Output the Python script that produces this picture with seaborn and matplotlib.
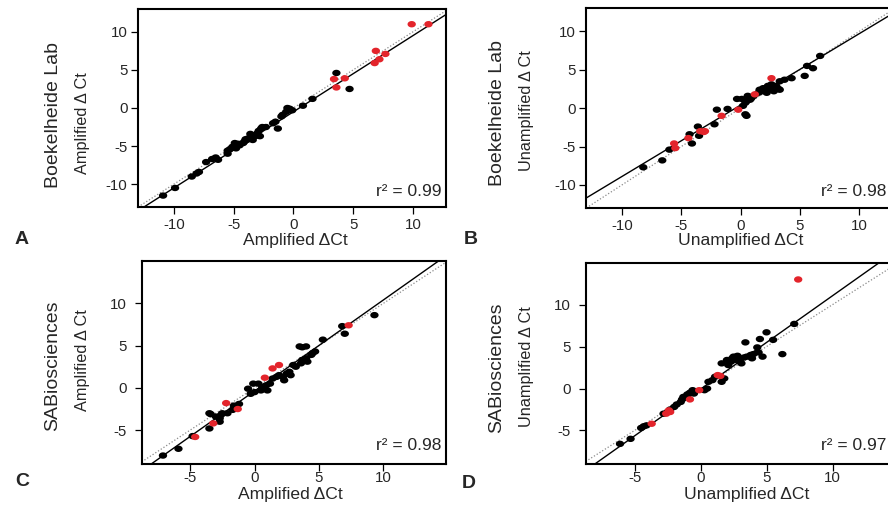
import numpy as np
import pandas as pd
import matplotlib
matplotlib.use("Agg")
import matplotlib.pyplot as plt
from matplotlib.path import Path
import seaborn as sns

# ---------------- data ----------------
# Panel A: Boekelheide Lab, amplified vs amplified
a_black_x = [-10.9, -9.9, -8.5, -8.1, -7.9, -7.3, -6.5, -6.3, -5.5, -5.5, -5.1, -4.9, -4.8,
             -4.5, -4.2, -4.1, -3.9, -3.8, -3.5, -3.4, -3.2, -3.1, -3.0, -2.8, -2.7, -2.6,
             -2.3, -1.7, -1.5, -1.3, -1.0, -0.9, -0.6, -0.5, -0.3, -0.1, 0.8, 1.6, 3.6, 4.7,
             -4.6, -4.0, -3.6, -2.9, -5.3, -6.8]
a_black_y = [-11.5, -10.5, -9.0, -8.6, -8.4, -7.1, -6.5, -6.8, -5.6, -6.0, -5.1, -4.6, -5.3,
             -4.9, -4.6, -4.4, -4.2, -4.0, -3.8, -4.2, -3.7, -3.5, -3.3, -3.7, -2.7, -2.5,
             -2.5, -2.0, -1.8, -2.7, -1.1, -0.9, -0.5, 0.0, -0.1, -0.3, 0.3, 1.2, 4.6, 2.5,
             -4.7, -4.1, -3.4, -3.0, -5.4, -6.7]
a_red_x = [3.4, 3.6, 4.3, 6.8, 6.9, 7.2, 7.7, 9.9, 11.3]
a_red_y = [3.8, 2.7, 3.9, 5.9, 7.5, 6.4, 7.1, 11.0, 11.0]

# Panel B: Boekelheide Lab, unamplified vs unamplified
b_black_x = [-8.2, -6.6, -6.0, -4.3, -4.1, -3.6, -3.5, -2.2, -2.0, -1.1, -0.3, 0.1, 0.2, 0.4,
             0.5, 0.4, 0.5, 0.6, 0.8, 0.9, 1.1, 1.5, 1.6, 1.8, 1.9, 2.0, 2.2, 2.3, 2.5, 2.6,
             2.8, 3.0, 3.2, 3.3, 3.3, 3.7, 4.3, 5.4, 5.6, 6.1, 6.7]
b_black_y = [-7.7, -6.8, -5.4, -3.4, -4.6, -2.4, -3.6, -2.1, -0.2, -0.1, 1.2, 1.2, 0.3, 0.7,
             0.9, -0.8, -1.0, 1.6, 1.1, 1.3, 1.6, 2.0, 2.4, 2.2, 2.6, 2.4, 2.0, 2.9, 2.6, 3.1,
             2.2, 2.9, 2.5, 2.4, 3.5, 3.7, 3.9, 4.2, 5.5, 5.2, 6.8]
b_red_x = [-5.6, -5.5, -4.4, -3.4, -3.1, -3.0, -1.6, -0.2, 1.2, 2.6]
b_red_y = [-4.6, -5.2, -3.9, -3.0, -3.1, -3.0, -1.0, -0.2, 1.8, 3.9]

# Panel C: SABiosciences, amplified vs amplified
c_black_x = [-7.1, -5.9, -4.8, -3.5, -3.5, -3.4, -3.0, -2.7, -2.6, -2.5, -2.7, -2.1, -1.7,
             -1.6, -1.2, -0.5, -0.3, 0.0, 0.3, 0.5, 0.6, 0.9, 1.0, 1.2, -0.1, 1.4, 1.7, 1.9,
             2.2, 2.3, 2.5, 2.7, 2.8, 3.0, 3.2, 3.6, 3.7, 4.0, 4.1, 4.4, 4.5, 4.7, 3.5, 3.7,
             4.0, 5.3, 6.8, 7.0, 9.3]
c_black_y = [-8.0, -7.2, -5.7, -4.8, -3.0, -3.1, -3.4, -3.6, -3.2, -3.0, -4.0, -3.0, -2.6,
             -2.1, -1.9, -0.1, -0.7, -0.5, 0.5, -0.3, 0.1, 0.3, -0.3, 0.5, 0.5, 1.1, 1.3, 1.5,
             1.3, 0.9, 1.7, 1.9, 1.5, 2.7, 2.5, 2.9, 3.3, 3.5, 3.1, 3.9, 4.1, 4.3, 4.9, 4.8,
             4.9, 5.7, 7.3, 6.4, 8.6]
c_red_x = [-4.6, -3.2, -2.2, -1.3, 0.8, 1.4, 1.9, 7.3]
c_red_y = [-5.8, -4.2, -1.8, -2.5, 1.2, 2.3, 2.7, 7.4]

# Panel D: SABiosciences, unamplified vs unamplified
d_black_x = [-6.1, -5.3, -4.5, -4.3, -4.1, -2.8, -2.5, -2.3, -2.0, -1.8, -1.5, -1.4, -1.3,
             -1.0, -0.8, -0.6, -0.5, 0.3, 0.5, 0.6, 0.9, 1.1, 1.6, 1.8, 1.6, 2.0, 2.1, 2.3,
             2.4, 2.5, 2.6, 2.8, 2.9, 3.0, 3.1, 3.3, 3.5, 3.8, 3.9, 4.0, 3.4, 4.3, 4.5, 4.7,
             4.4, 5.0, 5.5, 6.2, 7.1]
d_black_y = [-6.6, -6.0, -4.7, -4.5, -4.4, -3.0, -2.8, -2.5, -2.2, -1.9, -1.6, -1.3, -1.0,
             -0.7, -0.5, -0.2, -0.6, -0.2, 0.0, 0.8, 1.0, 1.4, 0.8, 1.2, 3.0, 3.4, 2.8, 3.2,
             3.6, 3.8, 3.4, 3.9, 3.5, 3.2, 3.0, 3.7, 3.8, 4.0, 3.6, 4.1, 5.5, 4.9, 5.9, 3.8,
             4.3, 6.7, 5.8, 4.1, 7.7]
d_red_x = [-3.7, -2.6, -2.4, -2.3, -0.8, -0.1, 1.3, 1.5, 7.4]
d_red_y = [-4.2, -3.0, -2.6, -2.8, -1.3, -0.2, 1.6, 1.5, 13.0]

# fitted regression lines (slope, intercept) and r^2 per panel
fit_slope = [1.0, 0.93, 1.077, 1.114]
fit_intercept = [-0.5, 0.4, -0.37, -0.08]
r2_values = ["0.99", "0.98", "0.98", "0.97"]

panel_letters = ["A", "B", "C", "D"]
lab_labels = ["Boekelheide Lab", "Boekelheide Lab", "SABiosciences", "SABiosciences"]
y_labels = ["Amplified \u0394 Ct", "Unamplified \u0394 Ct", "Amplified \u0394 Ct", "Unamplified \u0394 Ct"]
x_labels = ["Amplified \u0394Ct", "Unamplified \u0394Ct", "Amplified \u0394Ct", "Unamplified \u0394Ct"]
ticks_ab = [-10, -5, 0, 5, 10]
ticks_cd = [-5, 0, 5, 10]

# ---------------- style ----------------
sns.set_theme(style="white")
plt.rcParams['font.family'] = ['Liberation Sans', 'DejaVu Sans']
plt.rcParams['axes.unicode_minus'] = False

W, H = 888, 505
fig = plt.figure(figsize=(W / 100, H / 100), dpi=100)

def fx(px):
    return px / W

def fy(py):
    return 1 - py / H

# axes boxes in pixels: left, top, right, bottom
boxes = [(138, 9, 446, 207), (586.3, 8.3, 894.9, 208),
         (141.7, 261, 446, 464), (585.7, 262.7, 898.5, 464)]
xlims = [(-13, 12.77), (-13, 13), (-8.75, 14.85), (-8.7, 15)]
ylims = [(-13, 13), (-13, 13), (-9, 15), (-9, 15)]
xpads = [3.0, 3.0, 0.3, 0.3]
ypads = [2.5, 2.5, 5.5, 5.5]
# text anchor positions in pixels
xlab_pos = [(295, 240), (741, 240), (290, 494), (747, 495)]
ylab_pos = [(82, 123), (526, 111), (82, 360), (526, 367)]
lab_pos = [(53, 115), (497, 113), (53, 366), (497, 368)]
letter_pos = [(22, 240), (471, 240), (22, 482), (469, 484)]
r2_pos = [(441.7, 192), (886, 192), (441.7, 446), (886, 445)]

theta = np.linspace(0, 2 * np.pi, 41)
ellipse = Path(np.column_stack([1.3 * np.cos(theta), np.sin(theta)]), closed=True)

red = "#e3242b"
txt = "#262626"

data = [
    (a_black_x, a_black_y, a_red_x, a_red_y),
    (b_black_x, b_black_y, b_red_x, b_red_y),
    (c_black_x, c_black_y, c_red_x, c_red_y),
    (d_black_x, d_black_y, d_red_x, d_red_y),
]

for i in range(4):
    l, t, r, b = boxes[i]
    ax = fig.add_axes([fx(l), fy(b), (r - l) / W, (b - t) / H])
    bx, by, rx, ry = data[i]
    df = pd.DataFrame({
        "x": list(bx) + list(rx),
        "y": list(by) + list(ry),
        "grp": ["other"] * len(bx) + ["flag"] * len(rx),
    })
    sns.scatterplot(data=df, x="x", y="y", hue="grp",
                    palette={"other": "black", "flag": red},
                    marker=ellipse, s=36, linewidth=0, legend=False, ax=ax, zorder=3)
    ax.axline((0, 0), slope=1, color="#8a8a8a", lw=0.9, ls=(0, (1, 1.6)), zorder=2)
    ax.axline((0, fit_intercept[i]), slope=fit_slope[i], color="black", lw=1.0, zorder=2)
    ax.set_xlim(*xlims[i])
    ax.set_ylim(*ylims[i])
    tk = ticks_ab if i < 2 else ticks_cd
    ax.set_xticks(tk)
    ax.set_yticks(tk)
    ax.tick_params(axis="both", direction="out", length=5, width=0.9, color="black",
                   labelsize=10.8, labelcolor=txt, left=True, bottom=True)
    ax.tick_params(axis="x", pad=xpads[i])
    ax.tick_params(axis="y", pad=ypads[i])
    for sp in ax.spines.values():
        sp.set_visible(True)
        sp.set_color("black")
        sp.set_linewidth(1.5)
    ax.set_xlabel(x_labels[i], fontsize=12.6, color=txt)
    ax.xaxis.label.set_va("center")
    ax.xaxis.set_label_coords(fx(xlab_pos[i][0]), fy(xlab_pos[i][1]), transform=fig.transFigure)
    ax.set_ylabel(y_labels[i], fontsize=11.7, color=txt)
    ax.yaxis.label.set_va("center")
    ax.yaxis.set_label_coords(fx(ylab_pos[i][0]), fy(ylab_pos[i][1]), transform=fig.transFigure)
    fig.text(fx(lab_pos[i][0]), fy(lab_pos[i][1]), lab_labels[i], rotation=90,
             ha="center", va="center", fontsize=14, color=txt)
    fig.text(fx(letter_pos[i][0]), fy(letter_pos[i][1]), panel_letters[i],
             ha="center", va="center", fontsize=14, fontweight="bold", color=txt)
    fig.text(fx(r2_pos[i][0]), fy(r2_pos[i][1]), "r\u00b2 = " + r2_values[i],
             ha="right", va="center", fontsize=12.5, color=txt)

fig.savefig("out.png", dpi=100)
